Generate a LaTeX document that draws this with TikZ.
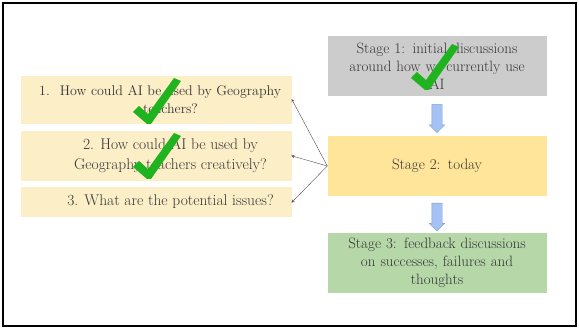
\documentclass[tikz,border=0pt]{standalone}
\usepackage{xcolor}
\usepackage{tikz}
\usetikzlibrary{shapes.arrows,positioning,calc}

\definecolor{qyellow}{HTML}{FCEFC8}
\definecolor{stgray}{HTML}{CCCCCC}
\definecolor{styellow}{HTML}{FFE599}
\definecolor{stgreen}{HTML}{B6D7A8}
\definecolor{downblue}{HTML}{A4C2F4}
\definecolor{downedge}{HTML}{7E9CCB}
\definecolor{tickgreen}{HTML}{1FB31F}
\definecolor{txtgray}{HTML}{353535}

% question text sits a little right of the box centre
\newcommand{\qtext}[1]{\hspace*{28pt}\parbox{236pt}{\centering #1}}

\begin{document}
\begin{tikzpicture}[
    x=1pt, y=-1pt,
    question/.style={rectangle, fill=qyellow, minimum width=271pt, inner sep=0pt, text=txtgray, font=\fontsize{15.5}{20}\selectfont},
    stage/.style={rectangle, minimum width=219pt, minimum height=60pt, text width=214pt, align=center, inner sep=0pt, text=txtgray, font=\fontsize{15}{18}\selectfont},
    down/.style={single arrow, draw=downedge, fill=downblue, rotate=-90, minimum height=28pt, minimum width=15pt, single arrow head extend=2.5pt, inner xsep=0pt, inner ysep=5pt},
    link/.style={->, >=stealth, gray!60!black, thin, shorten >=-1pt},
    tick/.pic={\fill[tickgreen] (-1,1) -- (-15,-11) -- (-9,-17) -- (0,-9) -- (26,-45) -- (33,-42) -- (3,1) -- cycle;}
]
    \useasboundingbox (0,0) rectangle (579,328);
    \draw[line width=2.5pt] (3,3) rectangle (576,326);

    % questions on the left
    \node[question, minimum height=48pt] (q1) at (156.5,100) {\qtext{\fontsize{14}{18}\selectfont\leavevmode\llap{1.\hspace{10pt}}How could AI be used by Geography\\ teachers?}};
    \node[question, minimum height=50pt] (q2) at (156.5,156) {\qtext{2. How could AI be used by\\ Geography teachers creatively?}};
    \node[question, minimum height=30pt] (q3) at (156.5,202) {\qtext{3. What are the potential issues?}};

    % stages on the right
    \node[stage, fill=stgray] (s1) at (437,66) {Stage 1: initial discussions\\ around how we currently use\\ AI};
    \node[stage, fill=styellow] (s2) at (437,166) {Stage 2: today};
    \node[stage, fill=stgreen] (s3) at (437,263) {Stage 3: feedback discussions\\ on successes, failures and\\ thoughts};

    \node[down] (d1) at ($(s1.south)!0.5!(s2.north)$) {};
    \node[down] (d2) at ($(s2.south)!0.5!(s3.north)$) {};

    \draw[link] (s2.west) -- (q1.east);
    \draw[link] (s2.west) -- (q2.east);
    \draw[link] (s2.west) -- (q3.east);

    % ticks
    \pic at (148,123) {tick};
    \pic at (148,178) {tick};
    \pic at (426,89) {tick};
\end{tikzpicture}
\end{document}
